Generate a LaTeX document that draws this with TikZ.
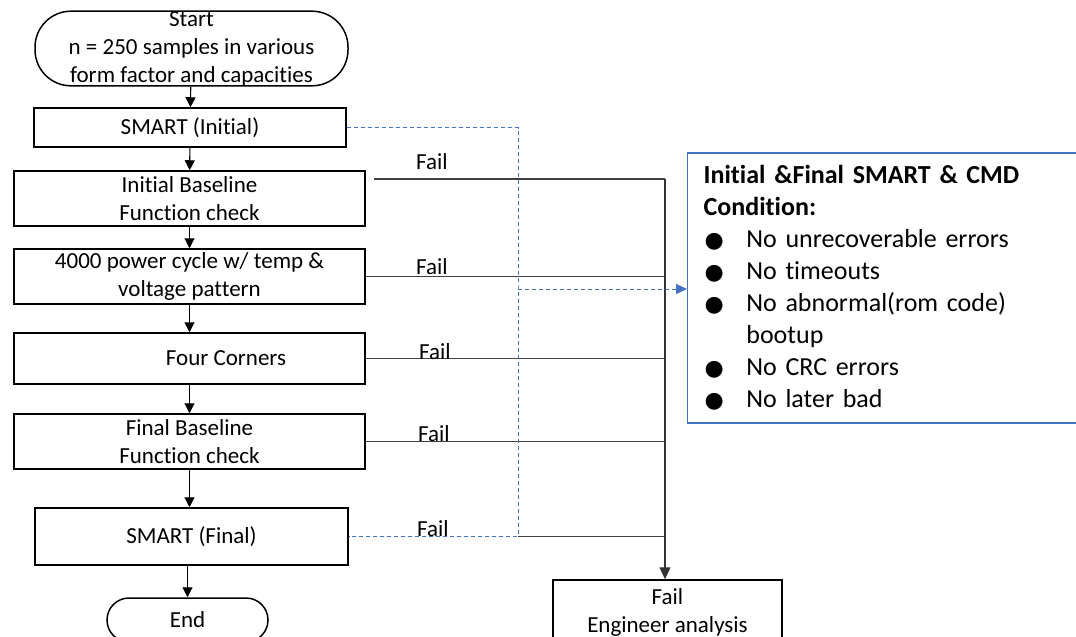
\documentclass[tikz,border=0pt]{standalone}
\usepackage{fontspec}
\setmainfont{Carlito}[RawFeature={-liga;-clig;-calt;-dlig;-rlig}]
\newfontfamily\symfont{DejaVu Sans}
\usetikzlibrary{arrows.meta,positioning,calc}
\definecolor{cndblue}{HTML}{4472C4}
\newcommand{\condbullet}{\makebox[42.7pt][l]{\hspace*{1pt}{\symfont\fontsize{22}{32}\selectfont ●}}}

\begin{document}
\begin{tikzpicture}[x=1pt, y=-1pt,
            block/.style={rectangle, draw, line width=1.5pt, align=center, inner sep=0pt,
                         font=\fontsize{23}{28}\selectfont},
            wide/.style={block, minimum width=351pt, minimum height=55pt},
            narrow/.style={block, minimum width=312pt, minimum height=39pt},
            term/.style={block, rounded corners=22pt},
            arrow/.style={-{Triangle[length=10pt,width=10pt]}, line width=1.1pt},
            failline/.style={line width=1.1pt, black!75},
            lbl/.style={font=\fontsize{23}{28}\selectfont, inner sep=0pt},
            link/.style={cndblue, line width=1pt, dash pattern=on 4pt off 3pt}
        ]
            \useasboundingbox (0,0) rectangle (1076,637);

            % Main flow
            \node[term, rounded corners=36pt, minimum width=313pt, minimum height=73pt] (start) at (191.5,48.5)
                {Start\\n = 250 samples in various\\form factor and capacities};
            \node[narrow] (smartinit) at (190,127.5) {SMART (Initial)};
            \node[wide] (initbase) at (189.5,198.5) {Initial Baseline\\Function check};
            \node[wide] (power) at (189.5,276.5) {4000 power cycle w/ temp \&\\voltage pattern};
            \node[wide, minimum height=51pt] (corners) at (189.5,358.5) {\hspace*{73pt}Four Corners};
            \node[wide] (finalbase) at (189.5,441.5) {Final Baseline\\Function check};
            \node[narrow, minimum width=313pt, minimum height=57pt] (smartfin) at (191.5,536.5) {SMART (Final)};
            \node[term, minimum width=161pt, minimum height=44pt] (endnode) at (187.5,620) {End};

            % Fail target
            \node[block, minimum width=229pt, minimum height=64pt] (failbox) at (667.5,612)
                {Fail\\Engineer analysis};

            % Condition box
            \node[draw=cndblue, line width=1.3pt, anchor=west, align=left, inner xsep=16pt,
                  minimum width=432pt, minimum height=270pt, text width=400pt,
                  font=\fontsize{26}{32}\selectfont] (cond) at (687,288)
                {\textbf{Initial \&Final SMART \& CMD}\\
                 \textbf{Condition:}\\
                 \condbullet No unrecoverable errors\\
                 \condbullet No timeouts\\
                 \condbullet No abnormal(rom code)\\
                 \hspace*{42.7pt}bootup\\
                 \condbullet No CRC errors\\
                 \condbullet No later bad};

            % Arrows
            \draw[arrow] (start) -- (smartinit);
            \draw[arrow] (smartinit) -- (initbase);
            \draw[arrow] (initbase) -- (power);
            \draw[arrow] (power) -- (corners);
            \draw[arrow] (corners) -- (finalbase);
            \draw[arrow] (finalbase.south) -- (finalbase.south |- smartfin.north);
            \draw[arrow] (smartfin.south -| endnode) -- (endnode.north);

            % Fail lines
            \coordinate (f1s) at (374,179);
            \coordinate (bus) at (665,179);
            \coordinate (split) at (518,289);
            \draw[failline] (f1s) -- (bus);
            \draw[failline] (power.east) -- (power.east -| bus);
            \draw[failline] (corners.east) -- (corners.east -| bus);
            \draw[failline] (finalbase.east) -- (finalbase.east -| bus);
            \draw[failline] (smartfin.east -| split) -- (smartfin.east -| bus);
            \draw[arrow, black!80, -{Triangle[length=12pt,width=11pt]}] (bus) -- (bus |- failbox.north);

            % SMART check links
            \draw[link] (smartinit.east) -| (split) |- (smartfin.east);
            \draw[link, -{Triangle[length=11pt,width=10pt]}] (split) -- (split -| cond.west);

            % Labels
            \node[lbl] (fail1) at (432,162) {Fail};
            \node[lbl] (fail2) at (432,267) {Fail};
            \node[lbl] (fail3) at (435,352) {Fail};
            \node[lbl] (fail4) at (434,434) {Fail};
            \node[lbl] (fail5) at (433,529) {Fail};
        \end{tikzpicture}
\end{document}
